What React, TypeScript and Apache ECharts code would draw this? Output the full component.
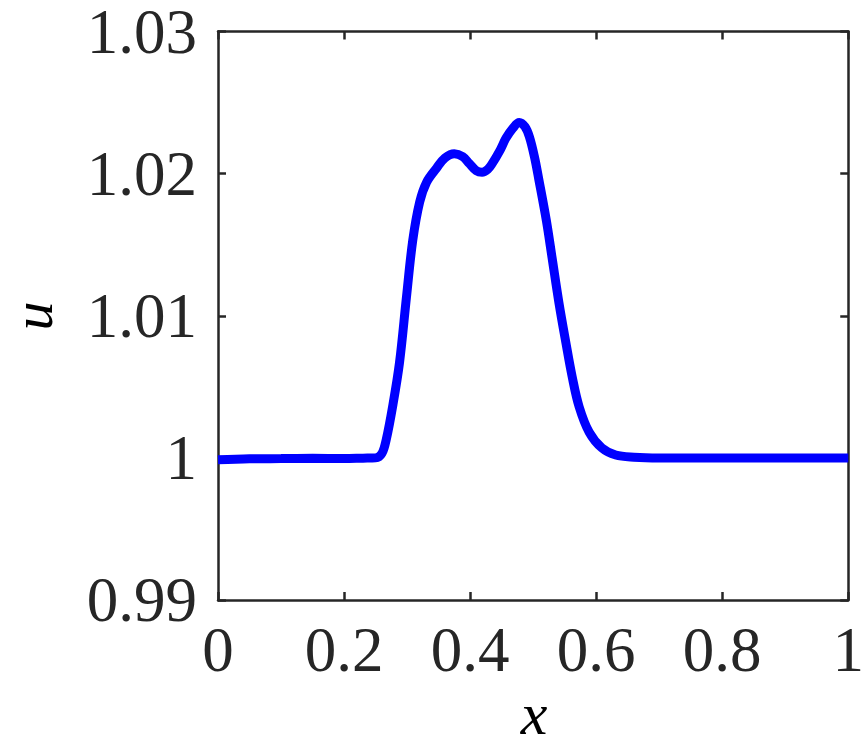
import React, { useEffect, useRef } from "react";
import * as echarts from "echarts";

const xValues = [
  0, 0.05, 0.1, 0.15, 0.2, 0.23, 0.25, 0.26, 0.267, 0.277, 0.288, 0.299, 0.309, 0.32, 0.331,
  0.347, 0.36, 0.375, 0.388, 0.399, 0.41, 0.419, 0.428, 0.435, 0.447, 0.457, 0.468, 0.478,
  0.487, 0.494, 0.502, 0.509, 0.521, 0.53, 0.541, 0.552, 0.562, 0.573, 0.589, 0.609, 0.631,
  0.66, 0.7, 0.8, 0.9, 1.0,
];
const uValues = [
  0.99986, 0.99993, 0.99995, 0.99997, 0.99995, 0.99998, 1.0, 1.0003, 1.0013, 1.0036, 1.0067,
  1.0113, 1.0153, 1.018, 1.0194, 1.0204, 1.0211, 1.0214, 1.0212, 1.0207, 1.0202, 1.0201,
  1.0203, 1.0207, 1.0216, 1.0225, 1.0232, 1.0236, 1.0233, 1.0226, 1.0212, 1.0196, 1.0167,
  1.0141, 1.0109, 1.0081, 1.0057, 1.0036, 1.0018, 1.0007, 1.0002, 1.00005, 1.0, 1.0, 1.0, 1.0,
];
const xTicks = ["0", "0.2", "0.4", "0.6", "0.8", "1"];
const yTicks = ["0.99", "1", "1.01", "1.02", "1.03"];

const FONT = "'Liberation Serif', 'Times New Roman', serif";
const AX = "#262626";

export default function App() {
  const ref = useRef<HTMLDivElement>(null);
  useEffect(() => {
    document.body.style.margin = "0";
    const chart = echarts.init(ref.current!, null, { renderer: "svg" });
    const fmt = (v: number) => String(parseFloat(v.toFixed(2)));
    const baseAxis = {
      axisLine: { show: true, onZero: false, lineStyle: { color: AX, width: 2.5 } },
      axisTick: { show: true, inside: true, length: 8, lineStyle: { color: AX, width: 2.5 } },
      splitLine: { show: false },
    };
    chart.setOption({
      animation: false,
      backgroundColor: "#fff",
      grid: { left: 218, top: 30, right: 16, bottom: 153 },
      xAxis: [
        {
          ...baseAxis,
          type: "value",
          min: 0,
          max: 1,
          interval: 0.2,
          position: "bottom",
          axisLabel: {
            show: true,
            color: AX,
            fontFamily: FONT,
            fontSize: 63,
            margin: 18,
            formatter: (v: number) => (xTicks.includes(fmt(v)) ? fmt(v) : ""),
          },
        },
        {
          ...baseAxis,
          type: "value",
          min: 0,
          max: 1,
          interval: 0.2,
          position: "top",
          axisLabel: { show: false },
        },
      ],
      yAxis: [
        {
          ...baseAxis,
          type: "value",
          min: 0.99,
          max: 1.03,
          interval: 0.01,
          position: "left",
          axisLabel: {
            show: true,
            color: AX,
            fontFamily: FONT,
            fontSize: 63,
            lineHeight: 36,
            margin: 21,
            formatter: (v: number) => (yTicks.includes(fmt(v)) ? fmt(v) : ""),
          },
        },
        {
          ...baseAxis,
          type: "value",
          min: 0.99,
          max: 1.03,
          interval: 0.01,
          position: "right",
          axisLabel: { show: false },
        },
      ],
      graphic: [
        {
          type: "text",
          x: 32,
          y: 316,
          rotation: Math.PI / 2,
          style: {
            text: "u",
            fontFamily: FONT,
            fontSize: 58,
            fontStyle: "italic",
            fill: "#000",
            lineHeight: 40,
            textAlign: "center",
            textVerticalAlign: "middle",
          },
        },
        {
          type: "text",
          x: 534,
          y: 714,
          style: {
            text: "x",
            fontFamily: FONT,
            fontSize: 60,
            fontStyle: "italic",
            fill: "#000",
            lineHeight: 44,
            textAlign: "center",
            textVerticalAlign: "middle",
          },
        },
      ],
      series: [
        {
          type: "line",
          data: xValues.map((x, i) => [x, uValues[i]]),
          smooth: 0.35,
          showSymbol: false,
          lineStyle: { color: "#0000ff", width: 9 },
        },
      ],
    });
    return () => chart.dispose();
  }, []);
  return <div ref={ref} style={{ width: 867, height: 753 }} />;
}
